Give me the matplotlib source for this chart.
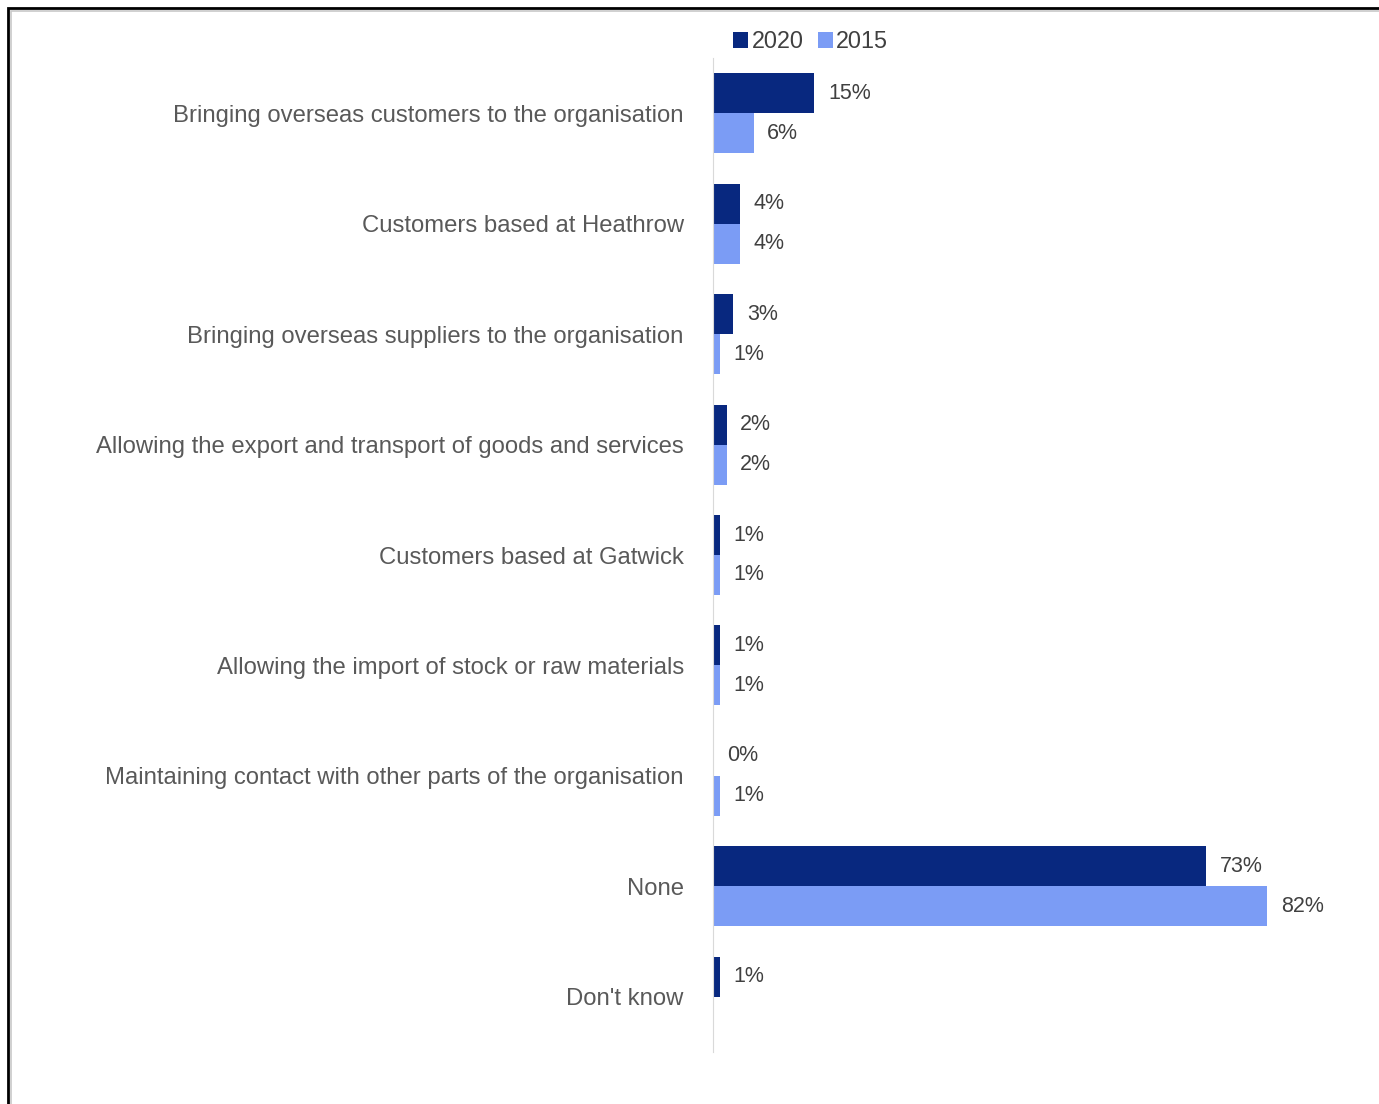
import numpy as np
import matplotlib
matplotlib.use('Agg')
from matplotlib import pyplot as plt
from matplotlib.patches import Rectangle

categories = ['Bringing overseas customers to the organisation',
              'Customers based at Heathrow',
              'Bringing overseas suppliers to the organisation',
              'Allowing the export and transport of goods and services',
              'Customers based at Gatwick',
              'Allowing the import of stock or raw materials',
              'Maintaining contact with other parts of the organisation',
              'None',
              "Don't know"]
vals_2020 = [15, 4, 3, 2, 1, 1, 0, 73, 1]
vals_2015 = [6, 4, 1, 2, 1, 1, 1, 82, np.nan]

plt.rcParams['font.family'] = ['Liberation Sans', 'DejaVu Sans']
dark = '#08287F'
light = '#7B9CF5'

fig = plt.figure(figsize=(13.79, 11.04), dpi=100)
ax = fig.add_axes([713/1379, 1 - 1052/1104, 1 - 713/1379, 994/1104])

y = np.arange(len(categories))
h = 0.362
ax.barh(y - h/2, vals_2020, height=h, color=dark, label='2020')
ax.barh(y + h/2, vals_2015, height=h, color=light, label='2015')

for i in range(len(categories)):
    for v, off in ((vals_2020[i], -h/2), (vals_2015[i], h/2)):
        if np.isnan(v):
            continue
        ax.text(v + 2.05, i + off, f'{v:.0f}%', va='center', ha='left',
                fontsize=15.5, color='#404040')

ax.set_xlim(0, 98.6)
ax.set_ylim(len(categories) - 0.5, -0.5)
ax.set_yticks(y)
ax.set_yticklabels(categories, fontsize=17.2, color='#595959')
ax.tick_params(axis='y', length=0, pad=21)
ax.set_xticks([])
for s in ['top', 'right', 'bottom']:
    ax.spines[s].set_visible(False)
ax.spines['left'].set_color('#D9D9D9')

leg = ax.legend(loc='lower left', bbox_to_anchor=(0.03, 1.005), ncol=2, frameon=False,
                fontsize=16.8, handlelength=0.65, handleheight=0.65, handletextpad=0.15,
                columnspacing=0.6, borderaxespad=0, borderpad=0)
for t in leg.get_texts():
    t.set_color('#404040')

# outer frame
fig.patches.append(Rectangle((8/1379, -0.1), 1.2, 1 - 8/1104 + 0.1, transform=fig.transFigure,
                             fill=False, edgecolor='black', linewidth=2))
fig.patches.append(Rectangle((11/1379, -0.1), 1.2, 1 - 11/1104 + 0.1, transform=fig.transFigure,
                             fill=False, edgecolor='#C8C8C8', linewidth=1.2))

plt.savefig('out.png', dpi=100)
